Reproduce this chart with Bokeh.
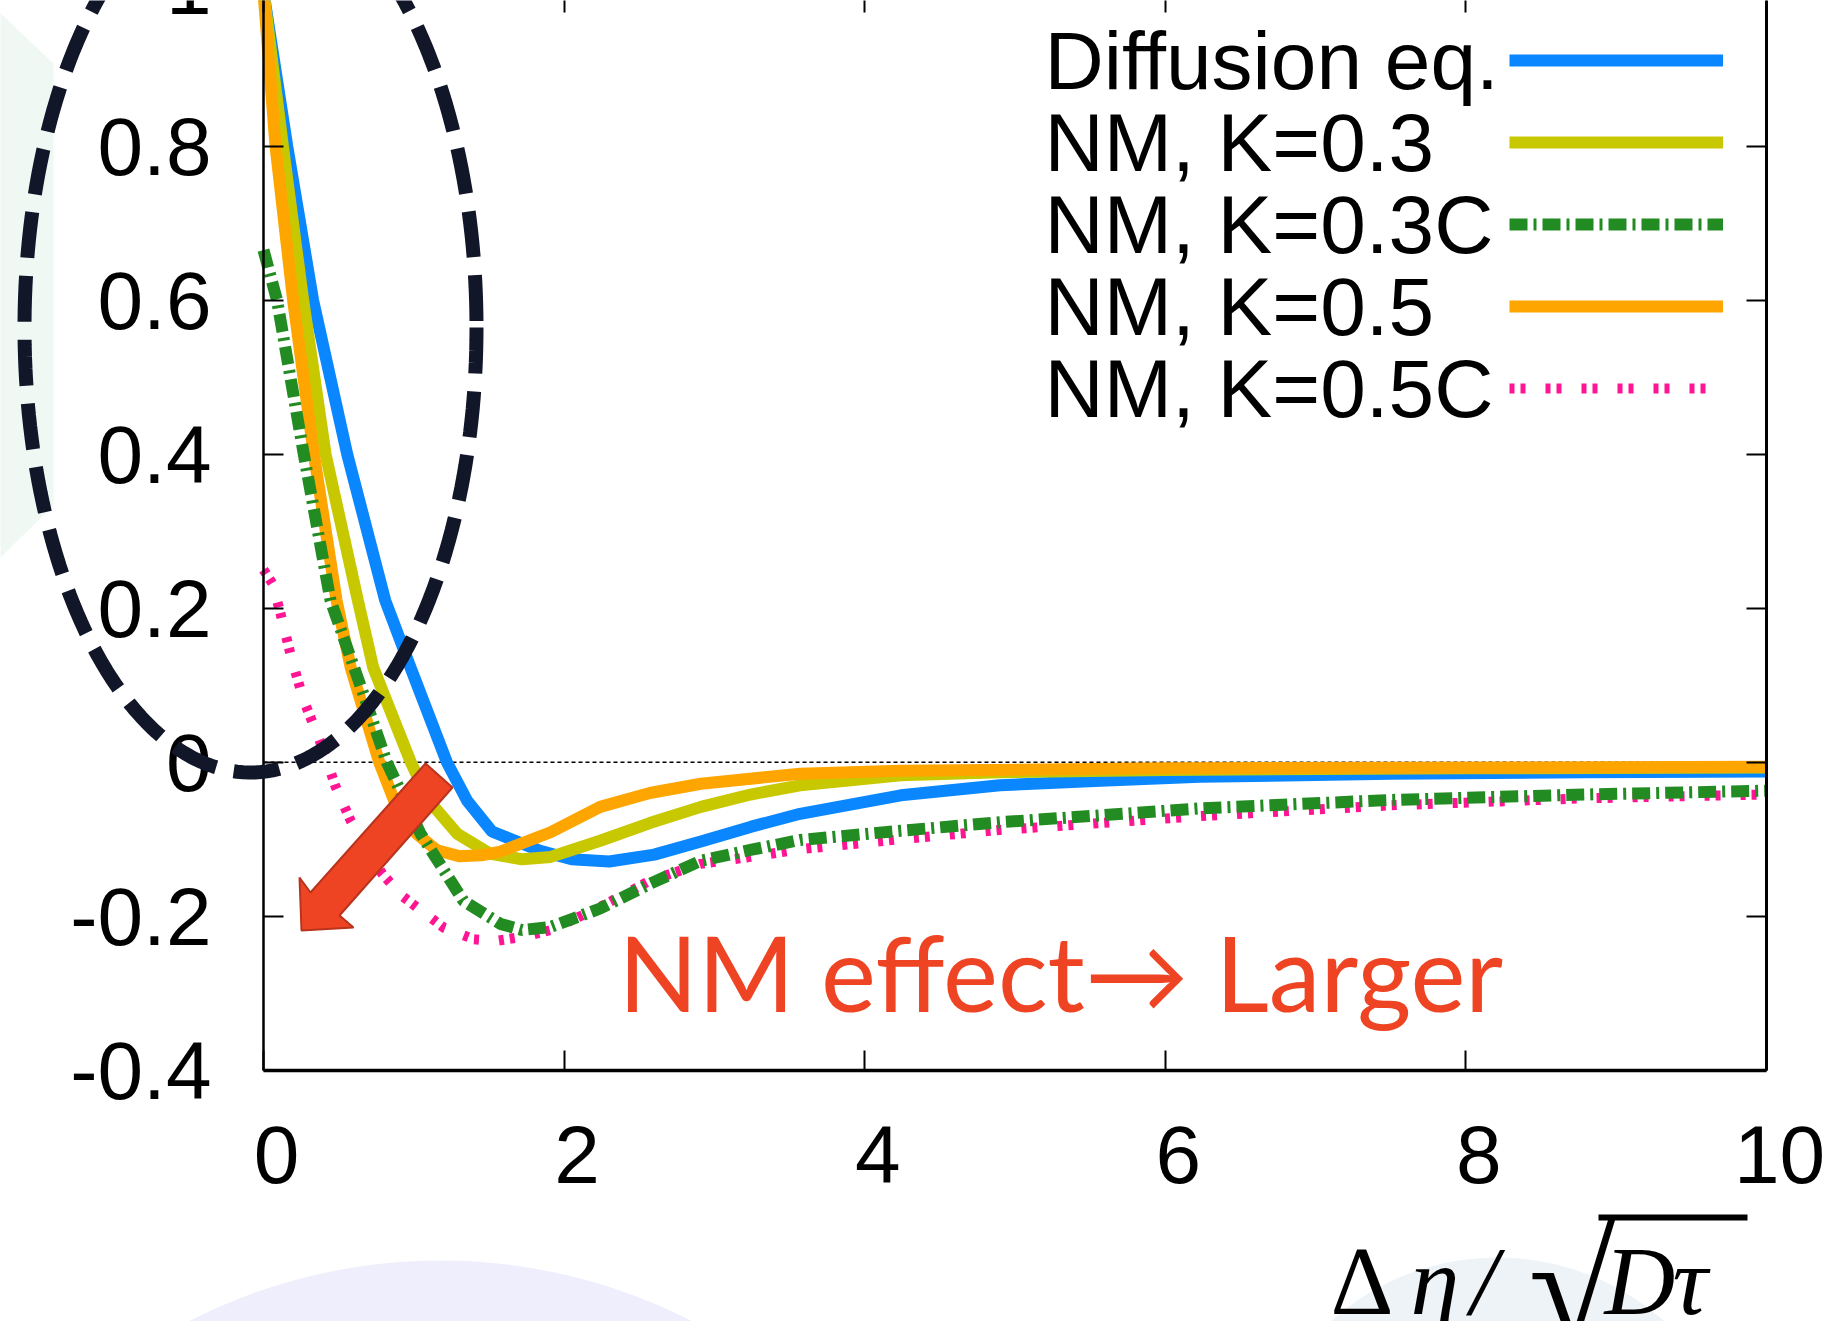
import numpy as np
from bokeh.plotting import figure
from bokeh.models import (Range1d, LinearAxis, FixedTicker, Label,
                          PolyAnnotation, Legend, LegendItem)
from bokeh.embed import file_html
from bokeh.resources import INLINE

# ---------------- data ----------------
x_ticks = [0, 2, 4, 6, 8, 10]
x_tick_labels = ["0", "2", "4", "6", "8", "10"]
y_ticks = [-0.4, -0.2, 0, 0.2, 0.4, 0.6, 0.8]
y_tick_labels = ["-0.4", "-0.2", "0", "0.2", "0.4", "0.6", "0.8"]
top_tick = 1.0
top_tick_label = "1"

series_names = ["Diffusion eq.", "NM, K=0.3", "NM, K=0.3C", "NM, K=0.5", "NM, K=0.5C"]

diff_x = [0, 0.158, 0.33, 0.557, 0.81, 0.978, 1.22, 1.355, 1.52, 1.84, 2.05, 2.3,
          2.6, 2.91, 3.24, 3.57, 4.24, 4.9, 5.57, 6.23, 7.5, 8.78, 10]
diff_y = [1.0, 0.8, 0.6, 0.4, 0.21, 0.123, 0.0, -0.05, -0.09, -0.115, -0.126, -0.129,
          -0.12, -0.103, -0.084, -0.067, -0.043, -0.030, -0.024, -0.019, -0.015, -0.013, -0.012]

k03_x = [0, 0.129, 0.264, 0.413, 0.628, 0.73, 0.98, 1.1, 1.29, 1.51, 1.72, 1.91,
         2.24, 2.57, 2.91, 3.24, 3.57, 4.24, 4.9, 6.0, 8.0, 10]
k03_y = [1.0, 0.8, 0.6, 0.4, 0.21, 0.123, 0.0, -0.05, -0.093, -0.119, -0.126, -0.123,
         -0.102, -0.079, -0.058, -0.042, -0.030, -0.017, -0.013, -0.010, -0.008, -0.007]

k03c_x = [0, 0.09, 0.268, 0.446, 0.68, 0.82, 1.045, 1.33, 1.577, 1.72, 1.91, 2.24,
          2.57, 2.91, 3.24, 3.57, 4.24, 4.9, 5.57, 6.23, 7.5, 8.78, 10]
k03c_y = [0.665, 0.6, 0.4, 0.21, 0.08, 0.0, -0.093, -0.18, -0.21, -0.218, -0.214, -0.19,
          -0.158, -0.128, -0.114, -0.101, -0.089, -0.078, -0.069, -0.060, -0.049, -0.042, -0.037]

k05_x = [0, 0.08, 0.197, 0.335, 0.486, 0.58, 0.77, 0.87, 1.02, 1.15, 1.3, 1.45,
         1.577, 1.91, 2.24, 2.57, 2.91, 3.57, 4.24, 6.0, 10]
k05_y = [1.0, 0.8, 0.6, 0.4, 0.21, 0.123, 0.0, -0.05, -0.093, -0.114, -0.122, -0.121,
         -0.116, -0.091, -0.058, -0.040, -0.028, -0.015, -0.011, -0.008, -0.006]

k05c_x = [0, 0.06, 0.113, 0.19, 0.268, 0.39, 0.48, 0.58, 0.79, 0.93, 1.2, 1.4, 1.55,
          1.75, 1.91, 2.24, 2.57, 2.91, 3.24, 3.57, 4.24, 4.9, 5.57, 6.23, 7.5, 8.78, 10]
k05c_y = [0.25, 0.232, 0.193, 0.132, 0.08, 0.02, -0.032, -0.076, -0.145, -0.175, -0.215,
          -0.23, -0.232, -0.226, -0.218, -0.188, -0.154, -0.132, -0.123, -0.113, -0.100,
          -0.088, -0.079, -0.070, -0.056, -0.047, -0.042]

# ---------------- geometry (frame = whole canvas) ----------------
W, H = 1838, 1321
X0_PX = 263.0          # pixel column of x = 0
X_PX = 150.3           # pixels per x unit
Y0_PX = 761.7          # pixel row of y = 0
Y_PX = 770.0           # pixels per y unit


def dx(px):
    return (px - X0_PX) / X_PX


def dy(py):
    return (Y0_PX - py) / Y_PX


x_lo, x_hi = dx(0), dx(W)
y_lo, y_hi = dy(H), dy(0)
xb = (x_ticks[0], x_ticks[-1])
yb = (y_ticks[0], top_tick)

TICK_FONT = "Liberation Sans"
TICK_SIZE = "82px"
LW = 12

p = figure(width=W, height=H, x_range=Range1d(x_lo, x_hi), y_range=Range1d(y_lo, y_hi),
           output_backend="svg", toolbar_location=None,
           min_border=0, min_border_left=0, min_border_right=0,
           min_border_top=0, min_border_bottom=0)
p.xgrid.visible = False
p.ygrid.visible = False
p.outline_line_color = None
p.background_fill_color = "white"
p.border_fill_color = "white"

# ---- background decorations of the slide ----
hx = [dx(v) for v in (-5, 53, 53, -5)]
hy = [dy(v) for v in (8, 63, 505, 562)]
p.add_layout(PolyAnnotation(xs=hx, ys=hy, fill_color="#f0f8f3", fill_alpha=1,
                            line_color=None, level="underlay"))

t = np.linspace(0, 2 * np.pi, 240)
for cx, cy, r, col in [(440, 1811, 551, "#eeeefc"), (1497, 1507, 250, "#eef3f8"),
                       (1990, 1620, 330, "#eeeefc")]:
    p.add_layout(PolyAnnotation(xs=list(dx(cx + r * np.cos(t))), ys=list(dy(cy + r * np.sin(t))),
                                fill_color=col, fill_alpha=1, line_color=None, level="underlay"))

# ---- axes, drawn at fixed data locations ----
ax_b = p.below[0]
ax_b.fixed_location = yb[0]
ax_b.bounds = xb
ax_b.ticker = FixedTicker(ticks=x_ticks)
ax_b.major_label_overrides = {v: "" for v in x_ticks}
ax_b.major_label_text_font_size = "0px"
ax_b.major_label_standoff = 0
ax_b.major_tick_in = 20
ax_b.major_tick_out = 0
ax_b.minor_tick_line_color = None
ax_b.axis_line_width = 3.5
ax_b.major_tick_line_width = 2

shift = 13.0 / X_PX
p.extra_x_ranges = {"lab": Range1d(x_lo - shift, x_hi - shift)}
ax_lab = LinearAxis(x_range_name="lab", ticker=FixedTicker(ticks=x_ticks), bounds=xb,
                    fixed_location=yb[0],
                    major_label_overrides={v: s for v, s in zip(x_ticks, x_tick_labels)},
                    axis_line_color=None, major_tick_line_color=None, minor_tick_line_color=None,
                    major_tick_in=0, major_tick_out=0, major_label_standoff=56,
                    major_label_text_font=TICK_FONT, major_label_text_font_size=TICK_SIZE,
                    major_label_text_color="black")
p.add_layout(ax_lab, "below")

ax_l = p.left[0]
ax_l.fixed_location = xb[0]
ax_l.bounds = yb
ax_l.ticker = FixedTicker(ticks=y_ticks)
ax_l.major_label_overrides = {v: s for v, s in zip(y_ticks, y_tick_labels)}
ax_l.major_label_text_font = TICK_FONT
ax_l.major_label_text_font_size = TICK_SIZE
ax_l.major_label_text_color = "black"
ax_l.major_label_standoff = 52
ax_l.major_tick_in = 20
ax_l.major_tick_out = 0
ax_l.minor_tick_line_color = None
ax_l.axis_line_width = 2.5
ax_l.major_tick_line_width = 2

ax_r = LinearAxis(ticker=FixedTicker(ticks=y_ticks), bounds=yb, fixed_location=xb[1],
                  major_label_overrides={v: "" for v in y_ticks},
                  major_label_text_font_size="0px", major_label_standoff=0,
                  major_tick_in=20, major_tick_out=0, minor_tick_line_color=None,
                  axis_line_width=3, major_tick_line_width=2)
p.add_layout(ax_r, "right")

ax_t = LinearAxis(ticker=FixedTicker(ticks=x_ticks), bounds=xb, fixed_location=yb[1],
                  major_label_overrides={v: "" for v in x_ticks},
                  major_label_text_font_size="0px", major_label_standoff=0,
                  major_tick_in=20, major_tick_out=0, minor_tick_line_color=None,
                  axis_line_color=None, major_tick_line_width=2)
p.add_layout(ax_t, "above")

# the "1" tick label, mostly cut by the top edge as in the slide
p.add_layout(Label(x=dx(211), y=dy(-15), text=top_tick_label, text_align="right",
                   text_baseline="middle", text_font=TICK_FONT, text_font_size=TICK_SIZE,
                   text_color="black"))

# zero reference line across the axis span
p.line([xb[0], xb[1]], [0, 0], line_color="black", line_width=1.5, line_dash="4 3")

# ---- curves ----
r_diff = p.line(diff_x, diff_y, line_color="#0a86ff", line_width=LW)
r_k03 = p.line(k03_x, k03_y, line_color="#c8c800", line_width=LW)
r_k05 = p.line(k05_x, k05_y, line_color="#ffa500", line_width=LW)
r_k05c = p.line(k05c_x, k05c_y, line_color="#ff1493", line_width=LW - 2, line_dash="5 6 5 20")
r_k03c = p.line(k03c_x, k03c_y, line_color="#228b22", line_width=LW, line_dash="18 6 3 6")

renderers = [r_diff, r_k03, r_k03c, r_k05, r_k05c]
legend = Legend(items=[LegendItem(label="", renderers=[r]) for r in renderers],
                location=(1509, H - (19 + 5 * 82)),
                glyph_width=214, glyph_height=82, label_width=0, label_standoff=0,
                label_height=1, label_text_font_size="1px",
                padding=0, spacing=0, margin=0, border_line_color=None,
                background_fill_alpha=0)
p.add_layout(legend, "center")

legend_rows = [60, 142, 224, 306, 388]
for name, row in zip(series_names, legend_rows):
    p.add_layout(Label(x=dx(1044), y=dy(row), text=name, text_align="left",
                       text_baseline="middle", text_font=TICK_FONT, text_font_size="82px",
                       text_color="black"))

# ---- annotations drawn on the slide ----
ex = list(dx(250 + 226 * np.cos(t)))
ey = list(dy(327 + 445 * np.sin(t)))
p.add_layout(PolyAnnotation(xs=ex, ys=ey, fill_alpha=0, line_color="#111629", line_alpha=1,
                            line_width=14, line_dash="46 18"))

arrow_px = [(425, 763), (452, 787), (339, 915), (353, 927), (301, 930), (299, 877), (310, 892)]
p.add_layout(PolyAnnotation(xs=[dx(a) for a, b in arrow_px], ys=[dy(b) for a, b in arrow_px],
                            fill_color="#ef4423", fill_alpha=1, line_color="#b8341c",
                            line_alpha=1, line_width=2))

p.add_layout(Label(x=dx(618), y=dy(971), text="NM effect\u2192 Larger", text_align="left",
                   text_baseline="middle", text_font="Lato", text_font_size="104px",
                   text_color="#ef4423"))

# axis title  Δη/√(Dτ)
SERIF = "Liberation Serif"
MID = dy(1280)
for txt, px, style, size in [("\u0394", 1330, "normal", "98px"), ("\u03b7", 1410, "italic", "98px"),
                              ("/", 1470, "italic", "98px"),
                              ("D", 1604, "italic", "98px"), ("\u03c4", 1672, "italic", "98px")]:
    p.add_layout(Label(x=dx(px), y=MID, text=txt, text_align="left", text_baseline="middle",
                       text_font=SERIF, text_font_style=style, text_font_size=size,
                       text_color="black"))
p.add_layout(Label(x=dx(1528), y=dy(1288), text="\u221a", text_align="left", text_baseline="middle",
                   text_font=SERIF, text_font_size="160px", text_color="black"))
vx = [dx(v) for v in (1598, 1747, 1747, 1598)]
vy = [dy(v) for v in (1214, 1214, 1220, 1220)]
p.add_layout(PolyAnnotation(xs=vx, ys=vy, fill_color="black", fill_alpha=1, line_color=None))

open("out.html", "w").write(file_html(p, INLINE))
